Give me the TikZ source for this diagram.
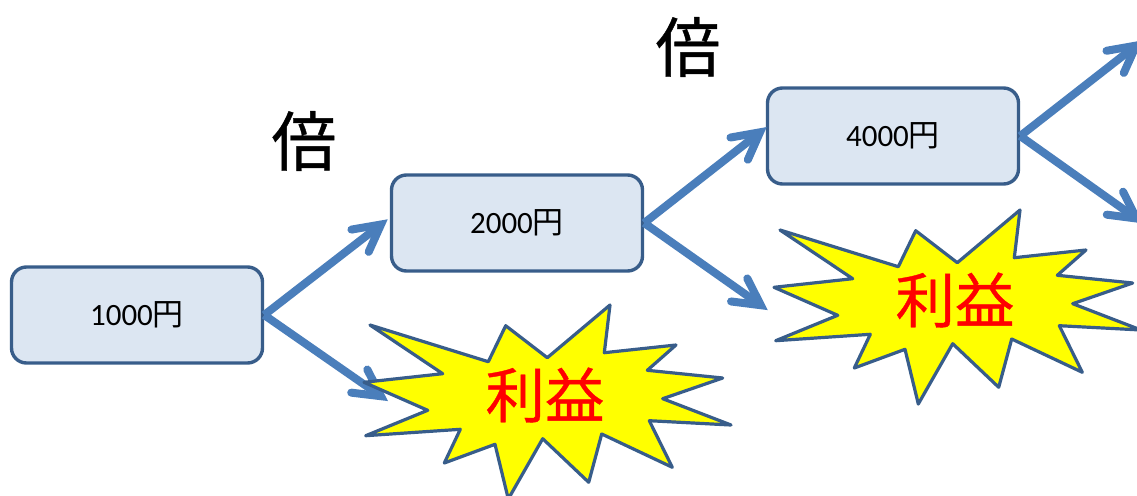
\documentclass[tikz,border=0pt]{standalone}
\usepackage{fontspec}
\setmainfont{Carlito}
\newfontfamily\cjk{Noto Sans CJK JP}
\newfontfamily\cjkb[FakeBold=0.6]{Noto Sans CJK JP}
\usetikzlibrary{calc}
\definecolor{boxfill}{RGB}{220,230,242}
\definecolor{edgeblue}{RGB}{56,93,138}
\definecolor{arrowblue}{RGB}{74,126,187}
\definecolor{burstfill}{RGB}{255,255,0}
\tikzset{
  x=1pt,y=-1pt,
  money/.style={draw=edgeblue,fill=boxfill,line width=3.4pt,rounded corners=15pt,minimum width=251pt,minimum height=96pt,inner sep=0pt,font=\fontsize{31}{31}\selectfont},
  flow/.style={draw=arrowblue,line width=8pt},
  flowhead/.style={draw=arrowblue,line width=8pt,line cap=round,line join=miter,miter limit=20},
  starshape/.style={draw=edgeblue,fill=burstfill,line width=3.2pt,line join=round},
  gain/.style={text=red,font=\cjkb\fontsize{59.5}{60}\selectfont,inner sep=0pt},
  bai/.style={font=\cjkb\fontsize{65}{65}\selectfont,inner sep=0pt}
}
\newcommand{\burst}[2]{%
  \draw[starshape,shift={(#1,#2)}] (0,0) -- (118.3,36.7) -- (135.7,.7) -- (177.3,32.7) -- (240,-20) -- (234.3,27.7) -- (306,20) -- (277.3,45.3) -- (352.7,53) -- (292.7,73.7) -- (361,100) -- (279.3,95.7) -- (302.3,142.3) -- (231.7,109) -- (218.7,157.3) -- (172.7,113.7) -- (138.3,174) -- (125,119.3) -- (74.3,138) -- (90.3,104.3) -- (-4.3,110.7) -- (57.7,85.3) -- (-6,57.3) -- (72.7,48.7) -- cycle;}
\newcommand{\flowline}[2]{%
  \draw[flow] (#1) -- (#2);
  \draw[flowhead] ($(#2)!30pt!28:(#1)$) -- (#2) -- ($(#2)!30pt!-28:(#1)$);}
\begin{document}
\begin{tikzpicture}
\useasboundingbox (0,0) rectangle (1137,495);
\node[money] (a) at (137,315) {\raisebox{-1pt}{1000\cjk 円}};
\node[money] (b) at (517,223) {\raisebox{-1pt}{2000\cjk 円}};
\node[money] (c) at (893,136) {\raisebox{-1pt}{4000\cjk 円}};
\coordinate (a1) at (381,224.5);
\coordinate (a2) at (381,396.2);
\coordinate (b1) at (760,132.3);
\coordinate (b2) at (760.8,305.2);
\coordinate (c1) at (1136,45.6);
\coordinate (c2) at (1136.5,218.5);
\flowline{a.east}{a1}
\flowline{a.east}{a2}
\flowline{b.east}{b1}
\flowline{b.east}{b2}
\flowline{c.east}{c1}
\flowline{c.east}{c2}
\burst{370}{325}
\burst{780}{230}
\node[gain] (g1) at (545,395) {利益};
\node[gain] (g2) at (955,300) {利益};
\node[bai] (t1) at (304,141) {倍};
\node[bai] (t2) at (688,47) {倍};
\end{tikzpicture}
\end{document}
